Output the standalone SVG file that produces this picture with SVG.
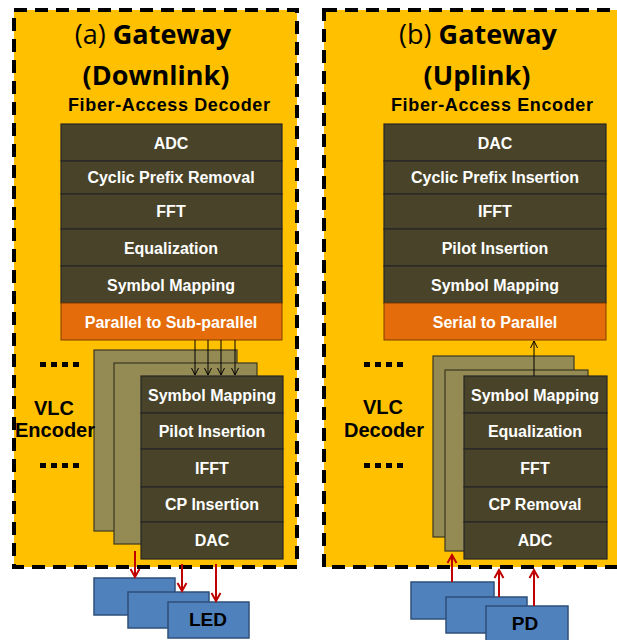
<svg xmlns="http://www.w3.org/2000/svg" width="617" height="640" viewBox="0 0 617 640">
<style>
.panel{fill:#FFC000;stroke:#000;stroke-width:4;stroke-dasharray:13 8}
.row{fill:#494429;stroke:#262626;stroke-width:1.2}
.orow{fill:#E46C0A;stroke:#7f3f00;stroke-width:1}
.card{fill:#948A54;stroke:#3b3820;stroke-width:1.2}
.rt{font-family:"Liberation Sans",Arial,sans-serif;font-weight:bold;font-size:16px;fill:#fff;text-anchor:middle}
.title{font-family:"Open Sans","Noto Sans",sans-serif;font-size:27px;fill:#000;text-anchor:middle}
.sub{font-family:"Liberation Sans",Arial,sans-serif;font-weight:bold;font-size:18px;fill:#000;text-anchor:middle}
.vlc{font-family:"Liberation Sans",Arial,sans-serif;font-weight:bold;font-size:20px;fill:#000;text-anchor:middle}
.dev{fill:#4F81BD;stroke:#2F4F7A;stroke-width:1.5}
.devt{font-family:"Liberation Sans",Arial,sans-serif;font-weight:bold;font-size:19px;fill:#000;text-anchor:middle}
.blk{stroke:#000;stroke-width:1;fill:none;marker-end:url(#ah)}
.red{stroke:#C00000;stroke-width:2;fill:none;marker-end:url(#ahr)}
</style>
<defs>
<marker id="ah" markerUnits="userSpaceOnUse" viewBox="-8 -5 10 10" refX="0" refY="0" markerWidth="10" markerHeight="10" orient="auto" overflow="visible">
<path d="M-7,-3.5 L0,0 L-7,3.5" fill="none" stroke="#000" stroke-width="1"/>
</marker>
<marker id="ahr" markerUnits="userSpaceOnUse" viewBox="-10 -6 12 12" refX="0" refY="0" markerWidth="12" markerHeight="12" orient="auto" overflow="visible">
<path d="M-8,-4.5 L0,0 L-8,4.5" fill="none" stroke="#C00000" stroke-width="2"/>
</marker>
</defs>

<g id="panel-a">
<rect class="panel" x="14" y="10" width="283" height="557"/>
<text class="title" x="153" y="44">(a) <tspan font-weight="bold">Gateway</tspan></text>
<text class="title" x="156" y="85" font-weight="bold">(Downlink)</text>
<text class="sub" x="169" y="111" textLength="202">Fiber-Access Decoder</text>
</g>

<g id="panel-b">
<rect class="panel" x="324" y="10" width="320" height="557"/>
<text class="title" x="478" y="44">(b) <tspan font-weight="bold">Gateway</tspan></text>
<text class="title" x="477" y="85" font-weight="bold">(Uplink)</text>
<text class="sub" x="492" y="111" textLength="202">Fiber-Access Encoder</text>
</g>

<g id="fiber-decoder">
<rect class="row" x="61" y="124" width="221" height="37"/>
<rect class="row" x="61" y="161" width="221" height="33"/>
<rect class="row" x="61" y="194" width="221" height="35"/>
<rect class="row" x="61" y="229" width="221" height="37"/>
<rect class="row" x="61" y="266" width="221" height="37"/>
<rect class="orow" x="61" y="303" width="221" height="37"/>
<text class="rt" x="171" y="149">ADC</text>
<text class="rt" x="171" y="183">Cyclic Prefix Removal</text>
<text class="rt" x="171" y="217">FFT</text>
<text class="rt" x="171" y="254">Equalization</text>
<text class="rt" x="171" y="291">Symbol Mapping</text>
<text class="rt" x="171" y="328">Parallel to Sub-parallel</text>
</g>

<g id="fiber-encoder">
<rect class="row" x="384" y="124" width="222" height="37"/>
<rect class="row" x="384" y="161" width="222" height="33"/>
<rect class="row" x="384" y="194" width="222" height="35"/>
<rect class="row" x="384" y="229" width="222" height="37"/>
<rect class="row" x="384" y="266" width="222" height="37"/>
<rect class="orow" x="384" y="303" width="222" height="37"/>
<text class="rt" x="495" y="149">DAC</text>
<text class="rt" x="495" y="183">Cyclic Prefix Insertion</text>
<text class="rt" x="495" y="217">IFFT</text>
<text class="rt" x="495" y="254">Pilot Insertion</text>
<text class="rt" x="495" y="291">Symbol Mapping</text>
<text class="rt" x="495" y="328">Serial to Parallel</text>
</g>

<g id="vlc-encoder">
<rect class="card" x="94" y="350" width="143" height="181"/>
<rect class="card" x="114" y="363" width="143" height="181"/>
<rect class="row" x="141" y="376" width="142" height="37"/>
<rect class="row" x="141" y="413" width="142" height="36"/>
<rect class="row" x="141" y="449" width="142" height="38"/>
<rect class="row" x="141" y="487" width="142" height="35"/>
<rect class="row" x="141" y="522" width="142" height="37"/>
<text class="rt" x="212" y="401">Symbol Mapping</text>
<text class="rt" x="212" y="437">Pilot Insertion</text>
<text class="rt" x="212" y="474">IFFT</text>
<text class="rt" x="212" y="510">CP Insertion</text>
<text class="rt" x="212" y="546">DAC</text>
<g fill="#000">
<rect x="40" y="362" width="6" height="5"/><rect x="51" y="362" width="6" height="5"/><rect x="62" y="362" width="6" height="5"/><rect x="73" y="362" width="6" height="5"/>
<rect x="40" y="463" width="6" height="5"/><rect x="51" y="463" width="6" height="5"/><rect x="62" y="463" width="6" height="5"/><rect x="73" y="463" width="6" height="5"/>
</g>
<text class="vlc" x="54" y="415">VLC</text>
<text class="vlc" x="55" y="437">Encoder</text>
</g>

<g id="vlc-decoder">
<rect class="card" x="433" y="356" width="141" height="181"/>
<rect class="card" x="445" y="370" width="143" height="181"/>
<rect class="row" x="464" y="376" width="143" height="37"/>
<rect class="row" x="464" y="413" width="143" height="36"/>
<rect class="row" x="464" y="449" width="143" height="38"/>
<rect class="row" x="464" y="487" width="143" height="35"/>
<rect class="row" x="464" y="522" width="143" height="37"/>
<text class="rt" x="535" y="401">Symbol Mapping</text>
<text class="rt" x="535" y="437">Equalization</text>
<text class="rt" x="535" y="474">FFT</text>
<text class="rt" x="535" y="510">CP Removal</text>
<text class="rt" x="535" y="546">ADC</text>
<g fill="#000">
<rect x="364" y="362" width="6" height="5"/><rect x="375" y="362" width="6" height="5"/><rect x="386" y="362" width="6" height="5"/><rect x="397" y="362" width="6" height="5"/>
<rect x="364" y="463" width="6" height="5"/><rect x="375" y="463" width="6" height="5"/><rect x="386" y="463" width="6" height="5"/><rect x="397" y="463" width="6" height="5"/>
</g>
<text class="vlc" x="383" y="414">VLC</text>
<text class="vlc" x="384" y="437">Decoder</text>
</g>

<g id="leds">
<rect class="dev" x="94" y="578" width="81" height="37"/>
<rect class="dev" x="128" y="592" width="81" height="36"/>
<rect class="dev" x="168" y="602" width="81" height="36"/>
<text class="devt" x="208" y="626">LED</text>
</g>

<g id="pds">
<rect class="dev" x="411" y="582" width="83" height="37"/>
<rect class="dev" x="446" y="597" width="81" height="36"/>
<rect class="dev" x="486" y="606" width="82" height="36"/>
<text class="devt" x="525" y="630">PD</text>
</g>

<g id="connectors">
<line class="blk" x1="195" y1="340" x2="195" y2="375"/>
<line class="blk" x1="208" y1="340" x2="208" y2="375"/>
<line class="blk" x1="221" y1="340" x2="221" y2="375"/>
<line class="blk" x1="235" y1="340" x2="235" y2="375"/>
<line class="blk" x1="534" y1="376" x2="534" y2="341"/>
<line class="red" x1="135" y1="551" x2="135" y2="577"/>
<line class="red" x1="182" y1="564" x2="182" y2="591"/>
<line class="red" x1="216" y1="564" x2="216" y2="601"/>
<line class="red" x1="452" y1="582" x2="452" y2="555"/>
<line class="red" x1="499" y1="597" x2="499" y2="570"/>
<line class="red" x1="534" y1="606" x2="534" y2="570"/>
</g>
</svg>
